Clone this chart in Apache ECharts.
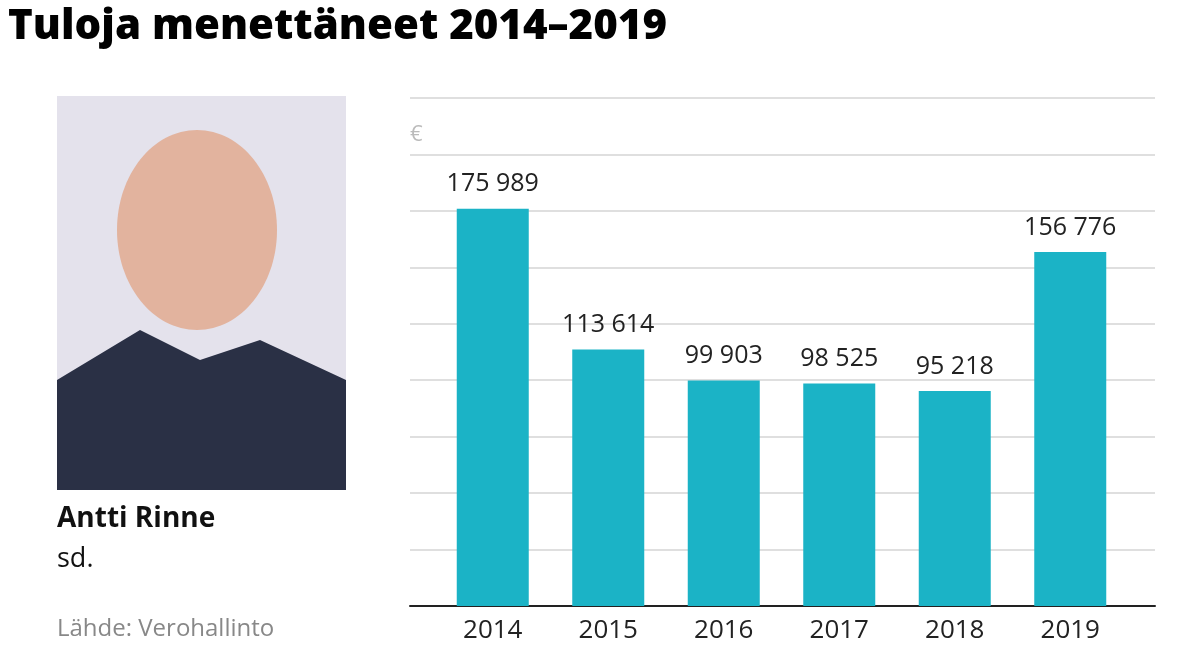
<!DOCTYPE html>
<html><head><meta charset="utf-8">
<script src="https://cdn.jsdelivr.net/npm/echarts@6/dist/echarts.min.js"></script>
<style>html,body{margin:0;padding:0;background:#fff}#c{width:1198px;height:666px}</style>
</head><body><div id="c"></div>
<script>
const categories = ['2014','2015','2016','2017','2018','2019'];
const values = [175989, 113614, 99903, 98525, 95218, 156776];
const fmt = v => String(v).replace(/\B(?=(\d{3})+(?!\d))/g, '\u00a0');
const chart = echarts.init(document.getElementById('c'));
const F = 'Open Sans';
chart.setOption({
  animation:false,
  textStyle:{fontFamily:F},
  grid:[
    {left:435, right:70, top:98, bottom:60},
    {left:410, right:43, top:98, bottom:60}
  ],
  xAxis:[
    {type:'category', data:categories, gridIndex:0,
     axisLine:{show:false}, axisTick:{show:false},
     axisLabel:{fontSize:26, color:'#222', margin:12, fontFamily:F}},
    {type:'value', gridIndex:1, min:0, max:1, axisLabel:{show:false}, axisTick:{show:false}, splitLine:{show:false},
     axisLine:{show:true, lineStyle:{color:'#222',width:2}}}
  ],
  yAxis:[
    {type:'value', gridIndex:0, min:0, max:225000, interval:25000, show:false},
    {type:'value', gridIndex:1, min:0, max:225000, interval:25000,
     axisLabel:{show:false}, axisLine:{show:false}, axisTick:{show:false},
     splitLine:{lineStyle:{color:'#d4d4d4',width:1.5}}}
  ],
  series:[{
    type:'bar', data:values, barWidth:72, xAxisIndex:0, yAxisIndex:0, z:3,
    itemStyle:{color:'#1bb3c6'},
    label:{show:true, position:'top', distance:12, fontSize:25, color:'#222', fontFamily:F,
      formatter:p=>fmt(p.value)}
  }],
  graphic:[
    {type:'text', left:8, top:6, style:{text:'Tuloja menettäneet 2014–2019', font:'800 42px "Open Sans"', fill:'#000'}},
    {type:'rect', shape:{x:57,y:96,width:289,height:394}, style:{fill:'#e4e2ec'}},
    {type:'polygon', shape:{points:[[57,380],[140,330],[200,360],[260,340],[346,380],[346,490],[57,490]]}, style:{fill:'#2a3045'}},
    {type:'ellipse', shape:{cx:197,cy:230,rx:80,ry:100}, style:{fill:'#e2b39e'}},
    {type:'text', left:57, top:505, style:{text:'Antti Rinne', font:'bold 28px "Open Sans"', fill:'#111'}},
    {type:'text', left:57, top:546, style:{text:'sd.', font:'27px "Open Sans"', fill:'#111'}},
    {type:'text', left:57, top:617, style:{text:'Lähde: Verohallinto', font:'24px "Open Sans"', fill:'#888'}},
    {type:'text', left:410, top:124, style:{text:'€', font:'22px "Open Sans"', fill:'#bbb'}}
  ]
});
</script></body></html>
